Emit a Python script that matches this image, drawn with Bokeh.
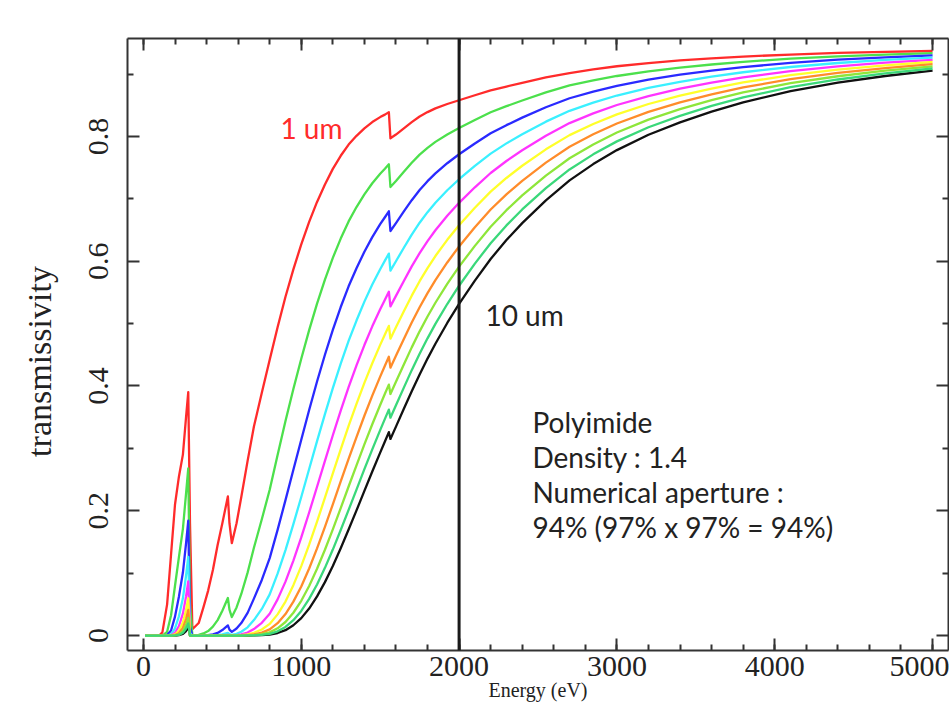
import math
from bokeh.plotting import figure
from bokeh.models import LinearAxis, FixedTicker, Span, Label, Range1d
from bokeh.embed import file_html
from bokeh.resources import INLINE

# ---- data (energy in eV, transmissivity) ----
energy_ev = [10, 100, 120, 150, 175, 200, 225, 250, 270, 284,
             295, 310, 350, 380, 410, 440, 470, 500, 535, 545,
             560, 590, 620, 660, 700, 750, 800, 850, 900, 950,
             1000, 1050, 1100, 1150, 1200, 1250, 1300, 1350, 1400, 1450,
             1500, 1530, 1555, 1565, 1600, 1650, 1700, 1750, 1800, 1850,
             1925, 2000, 2100, 2200, 2300, 2400, 2550, 2700, 2850, 3000,
             3200, 3400, 3600, 3800, 4100, 4400, 4700, 5000]

t_1um = [0, 0, 0.005, 0.05, 0.13, 0.21, 0.255, 0.29, 0.35, 0.39,
         0.18, 0.01, 0.02, 0.045, 0.072, 0.105, 0.145, 0.18, 0.223, 0.18,
         0.148, 0.18, 0.222, 0.28, 0.335, 0.389, 0.442, 0.494, 0.543, 0.587,
         0.627, 0.663, 0.695, 0.723, 0.748, 0.769, 0.787, 0.801, 0.813, 0.823,
         0.831, 0.835, 0.839, 0.797, 0.803, 0.813, 0.823, 0.832, 0.839, 0.845,
         0.852, 0.858, 0.866, 0.874, 0.880, 0.886, 0.8945, 0.9015, 0.9075, 0.9125,
         0.9175, 0.9218, 0.9252, 0.928, 0.9313, 0.9338, 0.9357, 0.937]
t_2um = [0, 0, 0, 0.006, 0.0325, 0.0798, 0.1262, 0.171, 0.2275, 0.268,
         0.0504, 0.0005, 0.001, 0.0034, 0.0072, 0.0142, 0.0247, 0.0396, 0.0602, 0.0414,
         0.0296, 0.045, 0.0666, 0.1008, 0.1407, 0.1864, 0.2336, 0.2895, 0.3439, 0.3953,
         0.4437, 0.4896, 0.532, 0.5704, 0.6054, 0.6363, 0.6638, 0.6868, 0.7072, 0.725,
         0.7402, 0.7482, 0.7554, 0.7189, 0.7286, 0.7434, 0.7578, 0.7708, 0.7817, 0.7913,
         0.8032, 0.8136, 0.8265, 0.8388, 0.8485, 0.8576, 0.8706, 0.8819, 0.8897, 0.8969,
         0.9044, 0.9104, 0.9153, 0.9196, 0.9246, 0.9284, 0.9313, 0.9334]
t_3um = [0, 0, 0, 0.0007, 0.0081, 0.0303, 0.0625, 0.101, 0.1479, 0.184,
         0.0141, 0, 0, 0.0003, 0.0007, 0.0019, 0.0042, 0.0087, 0.0163, 0.0095,
         0.0059, 0.0113, 0.02, 0.0363, 0.0591, 0.0891, 0.1241, 0.1694, 0.217, 0.2657,
         0.3139, 0.3616, 0.4072, 0.45, 0.49, 0.5266, 0.5598, 0.5888, 0.6152, 0.6386,
         0.6593, 0.6705, 0.68, 0.6484, 0.6612, 0.6798, 0.6978, 0.7142, 0.7283, 0.7409,
         0.7571, 0.7714, 0.7888, 0.805, 0.8181, 0.8302, 0.8468, 0.8612, 0.8717, 0.8811,
         0.891, 0.899, 0.9055, 0.9112, 0.9179, 0.923, 0.9269, 0.9299]
t_4um = [0, 0, 0, 0, 0.002, 0.0115, 0.0309, 0.0596, 0.0961, 0.126,
         0.004, 0, 0, 0, 0, 0.0003, 0.0007, 0.0019, 0.0044, 0.0022,
         0.0012, 0.0028, 0.006, 0.0131, 0.0248, 0.0426, 0.0659, 0.0991, 0.1369, 0.1786,
         0.2221, 0.267, 0.3116, 0.355, 0.3966, 0.4358, 0.4722, 0.5049, 0.5352, 0.5626,
         0.5872, 0.6009, 0.6122, 0.5849, 0.6, 0.6216, 0.6426, 0.6617, 0.6786, 0.6938,
         0.7138, 0.7314, 0.7529, 0.7725, 0.7889, 0.8036, 0.8237, 0.8411, 0.8541, 0.8656,
         0.8778, 0.8876, 0.8958, 0.9029, 0.9113, 0.9177, 0.9226, 0.9263]
t_5um = [0, 0, 0, 0, 0.0005, 0.0044, 0.0153, 0.0351, 0.0625, 0.0869,
         0.0011, 0, 0, 0, 0, 0, 0.0001, 0.0004, 0.0012, 0.0005,
         0.0002, 0.0007, 0.0018, 0.0047, 0.0104, 0.0204, 0.035, 0.0579, 0.0864, 0.1201,
         0.1572, 0.1972, 0.2385, 0.28, 0.321, 0.3606, 0.3982, 0.4329, 0.4656, 0.4956,
         0.523, 0.5384, 0.5512, 0.5276, 0.5444, 0.5684, 0.5917, 0.613, 0.6322, 0.6497,
         0.6729, 0.6936, 0.7185, 0.7414, 0.7606, 0.7779, 0.8012, 0.8214, 0.8369, 0.8504,
         0.8648, 0.8765, 0.8862, 0.8947, 0.9048, 0.9123, 0.9183, 0.9228]
t_6um = [0, 0, 0, 0, 0.0001, 0.0017, 0.0076, 0.0207, 0.0406, 0.0597,
         0, 0, 0, 0, 0, 0, 0, 0.0001, 0.0003, 0,
         0, 0.0002, 0.0005, 0.0017, 0.0044, 0.0097, 0.0186, 0.0339, 0.0545, 0.0807,
         0.1112, 0.1456, 0.1826, 0.2209, 0.2598, 0.2984, 0.3359, 0.3712, 0.405, 0.4365,
         0.4659, 0.4825, 0.4963, 0.4759, 0.494, 0.5197, 0.5448, 0.568, 0.589, 0.6083,
         0.6343, 0.6577, 0.6858, 0.7115, 0.7334, 0.753, 0.7793, 0.8021, 0.82, 0.8354,
         0.852, 0.8654, 0.8768, 0.8865, 0.8983, 0.907, 0.9139, 0.9193]
t_7um = [0, 0, 0, 0, 0, 0.0006, 0.0037, 0.0122, 0.0264, 0.041,
         0, 0, 0, 0, 0, 0, 0, 0, 0, 0,
         0, 0, 0.0002, 0.0006, 0.0018, 0.0046, 0.0099, 0.0198, 0.0344, 0.0543,
         0.0787, 0.1075, 0.1397, 0.1743, 0.2103, 0.2469, 0.2833, 0.3182, 0.3523, 0.3845,
         0.415, 0.4324, 0.4468, 0.4293, 0.4483, 0.4752, 0.5017, 0.5262, 0.5488, 0.5697,
         0.598, 0.6236, 0.6545, 0.6829, 0.7071, 0.7289, 0.758, 0.7834, 0.8034, 0.8207,
         0.8394, 0.8545, 0.8674, 0.8785, 0.8918, 0.9018, 0.9096, 0.9158]
t_8um = [0, 0, 0, 0, 0, 0.0002, 0.0018, 0.0072, 0.0172, 0.0282,
         0, 0, 0, 0, 0, 0, 0, 0, 0, 0,
         0, 0, 0, 0.0002, 0.0008, 0.0022, 0.0052, 0.0116, 0.0217, 0.0365,
         0.0557, 0.0794, 0.107, 0.1375, 0.1702, 0.2043, 0.2389, 0.2729, 0.3065, 0.3387,
         0.3696, 0.3875, 0.4022, 0.3872, 0.4068, 0.4346, 0.4619, 0.4876, 0.5113, 0.5334,
         0.5637, 0.5913, 0.6246, 0.6553, 0.6818, 0.7056, 0.7373, 0.765, 0.7872, 0.8063,
         0.827, 0.8437, 0.8581, 0.8705, 0.8854, 0.8965, 0.9054, 0.9124]
t_9um = [0, 0, 0, 0, 0, 0.0001, 0.0009, 0.0043, 0.0112, 0.0193,
         0, 0, 0, 0, 0, 0, 0, 0, 0, 0,
         0, 0, 0, 0.0001, 0.0003, 0.0011, 0.0028, 0.0068, 0.0137, 0.0245,
         0.0394, 0.0587, 0.0819, 0.1085, 0.1378, 0.1691, 0.2015, 0.2339, 0.2666, 0.2984,
         0.3292, 0.3472, 0.3621, 0.3492, 0.3691, 0.3974, 0.4254, 0.4517, 0.4764, 0.4995,
         0.5314, 0.5607, 0.5962, 0.6289, 0.6574, 0.683, 0.7172, 0.7471, 0.7713, 0.7921,
         0.8148, 0.8331, 0.8489, 0.8626, 0.879, 0.8913, 0.9011, 0.9089]
t_10um = [0, 0, 0, 0, 0, 0, 0.0005, 0.0025, 0.0072, 0.0133,
          0, 0, 0, 0, 0, 0, 0, 0, 0, 0,
          0, 0, 0, 0, 0.0001, 0.0005, 0.0015, 0.004, 0.0086, 0.0165,
          0.0279, 0.0433, 0.0627, 0.0856, 0.1115, 0.1399, 0.17, 0.2006, 0.2319, 0.2629,
          0.2932, 0.3111, 0.326, 0.3151, 0.3349, 0.3634, 0.3917, 0.4185, 0.4439, 0.4677,
          0.501, 0.5316, 0.569, 0.6036, 0.6339, 0.6611, 0.6976, 0.7296, 0.7557, 0.7781,
          0.8027, 0.8226, 0.8398, 0.8547, 0.8727, 0.8862, 0.8969, 0.9054]

series = [t_1um, t_2um, t_3um, t_4um, t_5um, t_6um, t_7um, t_8um, t_9um, t_10um]
for s in series:
    assert len(s) == len(energy_ev), len(s)

series_colors = ["#ff2b2b", "#4ce04c", "#2a2aff", "#3af0ff", "#ff33ff",
                 "#ffff2a", "#ff8c2a", "#8ee63a", "#3ad87a", "#111111"]

x_ticks = [0, 1000, 2000, 3000, 4000, 5000]
x_minor = list(range(0, 5001, 200))
y_ticks = [0, 0.2, 0.4, 0.6, 0.8]
y_tick_labels = ["0", "0.2", "0.4", "0.6", "0.8"]
y_minor = [0.1, 0.3, 0.5, 0.7, 0.9]

info_lines = ["Polyimide", "Density : 1.4", "Numerical aperture :", "94% (97% x 97% = 94%)"]
marker_energy = 2000

SERIF = "Liberation Serif"
SANS = "Lato"
AXIS_COLOR = "#333333"
TEXT_COLOR = "#222222"

p = figure(width=949, height=713, x_range=Range1d(-101, 5101), y_range=Range1d(-0.024, 0.957),
           output_backend="svg", toolbar_location=None,
           min_border_left=127, min_border_top=38, min_border_right=1, min_border_bottom=63)
p.grid.visible = False
p.outline_line_color = None
p.background_fill_color = "white"
p.border_fill_color = "white"

# black first so that the 9th curve lies on top along the zero baseline
order = [9, 0, 1, 2, 3, 4, 5, 6, 7, 8]
for i in order:
    p.line(energy_ev, series[i], line_color=series_colors[i], line_width=2.3, line_join="round")

p.add_layout(Span(location=marker_energy, dimension="height", line_color="#1a1a1a", line_width=3))


def style_axis(ax, show_labels):
    ax.axis_line_color = AXIS_COLOR
    ax.axis_line_width = 2
    ax.major_tick_line_color = AXIS_COLOR
    ax.minor_tick_line_color = AXIS_COLOR
    ax.major_tick_line_width = 2
    ax.minor_tick_line_width = 2
    ax.major_tick_in = 12
    ax.major_tick_out = 0
    ax.minor_tick_in = 6
    ax.minor_tick_out = 0
    if show_labels:
        ax.major_label_text_font = SERIF
        ax.major_label_text_font_size = "30px"
        ax.major_label_text_color = TEXT_COLOR
    else:
        ax.major_label_text_font_size = "1px"
        ax.major_label_text_color = None
        ax.major_label_standoff = 0


xb = p.xaxis[0]
xb.ticker = FixedTicker(ticks=x_ticks, minor_ticks=x_minor)
style_axis(xb, True)
xb.major_label_standoff = 6
xb.axis_label = "Energy (eV)"
xb.axis_label_text_font = SERIF
xb.axis_label_text_font_style = "normal"
xb.axis_label_text_font_size = "20px"
xb.axis_label_text_color = TEXT_COLOR
xb.axis_label_standoff = 0

yl = p.yaxis[0]
yl.ticker = FixedTicker(ticks=y_ticks, minor_ticks=y_minor)
style_axis(yl, True)
yl.major_label_orientation = "vertical"
yl.major_label_overrides = {t: s for t, s in zip(y_ticks, y_tick_labels)}
yl.major_label_standoff = 19
yl.axis_label = "transmissivity" + "\u00a0" * 4
yl.axis_label_text_font = SERIF
yl.axis_label_text_font_style = "normal"
yl.axis_label_text_font_size = "34px"
yl.axis_label_text_color = TEXT_COLOR
yl.axis_label_standoff = 29

xt = LinearAxis(ticker=FixedTicker(ticks=x_ticks, minor_ticks=x_minor))
style_axis(xt, False)
p.add_layout(xt, "above")
yr = LinearAxis(ticker=FixedTicker(ticks=y_ticks, minor_ticks=y_minor))
style_axis(yr, False)
p.add_layout(yr, "right")

# annotations
p.add_layout(Label(x=868, y=0.814, text="1 um", text_font=SANS, text_font_size="28px",
                   text_color="#ff2b2b", text_baseline="alphabetic"))
p.add_layout(Label(x=2167, y=0.514, text="10 um", text_font=SANS, text_font_size="28px",
                   text_color=TEXT_COLOR, text_baseline="alphabetic"))
for k, line in enumerate(info_lines):
    p.add_layout(Label(x=2465, y=0.3425 - k * 0.0562, text=line, text_font=SANS, text_font_size="28px",
                       text_color=TEXT_COLOR, text_baseline="alphabetic"))

open("out.html", "w").write(file_html(p, INLINE))
